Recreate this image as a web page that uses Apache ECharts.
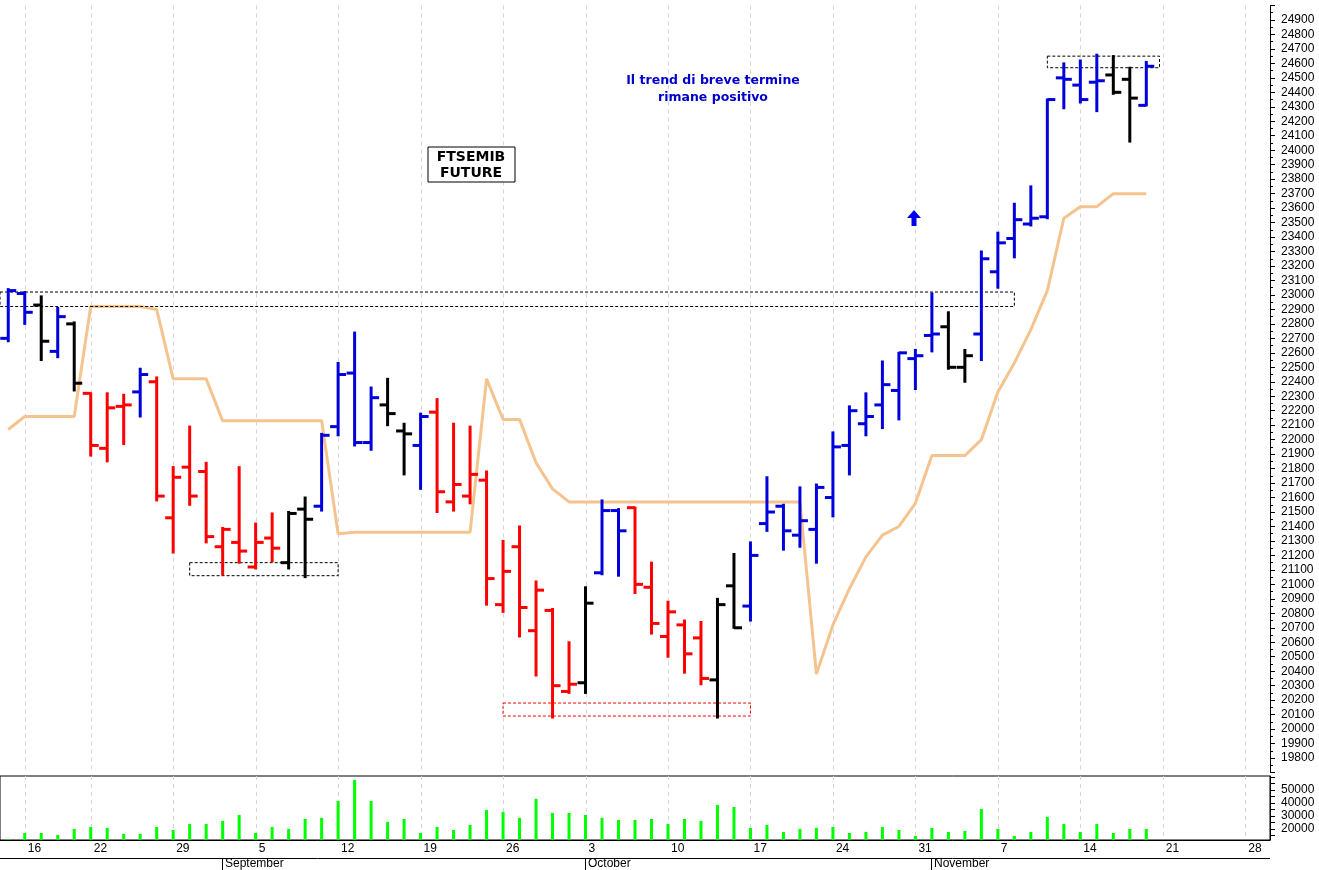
<!DOCTYPE html>
<html><head><meta charset="utf-8">
<script src="https://cdn.jsdelivr.net/npm/echarts@6/dist/echarts.min.js"></script>
<style>html,body{margin:0;padding:0;background:#fff}#c{width:1319px;height:870px}</style>
</head><body><div id="c"></div>
<script>
const dates = ['08-12','08-16','08-17','08-18','08-19','08-22','08-23','08-24','08-25','08-26','08-29','08-30','08-31','09-01','09-02',
'09-05','09-06','09-07','09-08','09-09','09-12','09-13','09-14','09-15','09-16','09-19','09-20','09-21','09-22','09-23',
'09-26','09-27','09-28','09-29','09-30','10-03','10-04','10-05','10-06','10-07','10-10','10-11','10-12','10-13','10-14',
'10-17','10-18','10-19','10-20','10-21','10-24','10-25','10-26','10-27','10-28','10-31','11-01','11-02','11-03','11-04',
'11-07','11-08','11-09','11-10','11-11','11-14','11-15','11-16','11-17','11-18','11-21','11-22','11-23','11-24','11-25','11-28','11-29'];
const opens = [22700,23010,22930,22610,22800,22320,21940,22230,22330,22400,
21460,21810,21780,21260,21290,21120,21320,21150,21520,21540,
22090,22460,21980,22240,22060,21960,22190,21570,21610,21720,
20860,21260,20680,20820,20260,20320,21080,21510,21530,20980,
20640,20720,20630,20340,20990,20850,21420,21540,21340,21380,
21600,21960,22110,22240,22340,22560,22720,22780,22500,22730,
23160,23390,23490,23540,24500,24450,24470,24520,24490,24310];
const highs = [23040,23020,22990,22910,22810,22320,22320,22310,22490,22430,
21810,22090,21840,21390,21810,21420,21490,21500,21600,22040,
22530,22740,22360,22420,22110,22180,22280,22110,22090,21780,
21300,21400,21020,20830,20600,20980,21580,21520,21530,21150,
20880,20750,20740,20900,21210,21290,21740,21550,21670,21690,
22050,22230,22320,22540,22600,22620,23010,22880,22620,23300,
23430,23630,23750,24350,24600,24620,24660,24650,24570,24610];
const lows = [22680,22800,22550,22570,22340,21890,21850,21970,22160,21580,
21220,21550,21290,21070,21150,21110,21160,21110,21050,21510,
22030,21960,21930,22100,21760,21660,21500,21510,21560,20860,
20810,20640,20370,20080,20250,20250,21070,21060,20940,20660,
20500,20390,20310,20080,20700,20750,21370,21240,21260,21150,
21470,21760,22030,22080,22140,22350,22610,22490,22400,22550,
23050,23260,23480,23530,24290,24330,24270,24390,24060,24310];
const closes = [23030,22880,22680,22850,22390,21960,22220,22240,22450,21610,
21740,21610,21330,21380,21230,21290,21250,21490,21450,22030,
22450,21980,22290,22180,22040,22160,21640,21690,21760,21040,
21090,20840,20960,20300,20310,20870,21510,21370,21000,20730,
20810,20520,20350,20860,20700,21200,21500,21370,21440,21670,
21950,22200,22160,22380,22600,22580,22730,22500,22580,23250,
23360,23520,23530,24350,24490,24350,24480,24400,24360,24580];
const barColors = ['B','B','K','B','K','R','R','R','B','R',
'R','R','R','R','R','R','R','K','K','B',
'B','B','B','K','K','B','R','R','R','R',
'R','R','R','R','R','K','B','B','R','R',
'R','R','R','K','K','B','B','B','B','B',
'B','B','B','B','B','B','B','K','K','B',
'B','B','B','B','B','B','B','K','K','B'];
const trendLine = [22070,22160,22160,22160,22160,22920,22920,22920,22920,22900,
22420,22420,22420,22130,22130,22130,22130,22130,22130,22130,
21350,21360,21360,21360,21360,21360,21360,21360,21360,22420,
22140,22140,21840,21660,21570,21570,21570,21570,21570,21570,
21570,21570,21570,21570,21570,21570,21570,21570,21570,20380,
20720,20970,21190,21340,21400,21560,21890,21890,21890,22000,
22330,22530,22760,23030,23530,23610,23610,23700,23700,23700];
const volumes = [12300,16900,16900,15400,20000,21500,20800,16200,16200,21500,
19200,23800,23800,26200,30800,16900,21500,20000,27700,28500,
41500,57700,41500,25400,27700,16900,21500,19200,23100,34600,
33100,28500,43100,32300,32300,30800,28500,26900,26900,27700,
23800,27700,26200,38500,36900,20800,23100,17700,20000,20800,
21500,16900,17700,21500,19200,14600,20800,17700,18500,35400,
20000,14600,17700,29200,23800,17700,23800,16900,20000,20000];
// zones: [startIndex, endIndex, priceLow, priceHigh, colour]
const zones = [[-0.5,61,22920,23020,'#000'],[11,20,21060,21150,'#000'],[30,45,20090,20180,'#f00'],[63,69.8,24570,24650,'#000']];
const priceTicks = [19800,24900];
const volLabels = [20000,30000,40000,50000];

const YEAR = 2022;
const dObj = dates.map(s => new Date(YEAR, +s.slice(0,2)-1, +s.slice(3)));
const weekStart = dObj.map((d,i) => i>0 && d.getDay() < dObj[i-1].getDay());
const weekIdx = weekStart.map((w,i)=>w?[i]:null).filter(Boolean);
const colMap = {B:'#0000dd', R:'#ff0000', K:'#000000'};
const ohlc = opens.map((o,i)=>[i,o,highs[i],lows[i],closes[i]]);

const chart = echarts.init(document.getElementById('c'));
const font = 'Liberation Sans, Arial, sans-serif';
const vGrid = (xi, yi) => ({type:'custom', xAxisIndex:xi, yAxisIndex:yi, data:weekIdx, z:0, silent:true,
  renderItem:(params, api)=>{
    const x = Math.round(api.coord([api.value(0), 0])[0]) + 0.5;
    const cs = params.coordSys;
    return {type:'line', shape:{x1:x, y1:cs.y, x2:x, y2:cs.y+cs.height}, style:{stroke:'#d4d4de', lineWidth:1, lineDash:[4,4]}};
  }});
chart.setOption({
  animation:false,
  grid:[{left:0, width:1270, top:5.5, height:767},
        {left:0, width:1270, top:776, height:64, show:true, borderColor:'#000', borderWidth:1, backgroundColor:'transparent'}],
  xAxis:[
    {type:'category', gridIndex:0, data:dates, axisLine:{show:false}, axisTick:{show:false}, axisLabel:{show:false}, splitLine:{show:false}},
    {type:'category', gridIndex:1, data:dates, axisLine:{lineStyle:{color:'#000'}}, 
     axisTick:{alignWithLabel:true, interval:(i)=>weekStart[i], length:18, lineStyle:{color:'#000'}},
     axisLabel:{interval:(i)=>weekStart[i], formatter:(v)=>String(+v.slice(3)), align:'left', padding:[0,0,0,3], margin:3, fontSize:12, color:'#000', fontFamily:font},
     splitLine:{show:false}}
  ],
  yAxis:[
    {type:'value', gridIndex:0, position:'right', min:19700, max:25000, interval:100,
     axisLine:{show:true, lineStyle:{color:'#000'}}, axisTick:{show:true, length:5, lineStyle:{color:'#000'}},
     minorTick:{show:true, splitNumber:2, length:3, lineStyle:{color:'#000'}},
     axisLabel:{formatter:(v)=> (v>=priceTicks[0] && v<=priceTicks[1]) ? String(v) : '', fontSize:12, color:'#000', margin:11, fontFamily:font},
     splitLine:{show:false}},
    {type:'value', gridIndex:1, position:'right', min:11500, max:60700,
     axisLine:{show:true, lineStyle:{color:'#000'}},
     axisTick:{show:true, length:5, customValues:[15000,20000,25000,30000,35000,40000,45000,50000,55000,60000], lineStyle:{color:'#000'}},
     axisLabel:{customValues:volLabels, formatter:(v)=>String(v), fontSize:12, color:'#000', margin:11, fontFamily:font},
     splitLine:{show:false}}
  ],
  series:[
    vGrid(0,0), vGrid(1,1),
    {type:'line', xAxisIndex:0, yAxisIndex:0, data:trendLine, symbol:'none', lineStyle:{color:'#f5c48e', width:3}, z:1},
    {type:'custom', xAxisIndex:0, yAxisIndex:0, data:ohlc, z:3,
     renderItem:(params, api)=>{
       const i = api.value(0);
       const hi = api.coord([i, api.value(2)]), lo = api.coord([i, api.value(3)]);
       const op = api.coord([i, api.value(1)]), cl = api.coord([i, api.value(4)]);
       const col = colMap[barColors[i]];
       const st = {stroke:col, lineWidth:3};
       return {type:'group', children:[
         {type:'line', shape:{x1:hi[0], y1:hi[1]-1, x2:lo[0], y2:lo[1]+1}, style:st},
         {type:'line', shape:{x1:op[0]-8, y1:op[1], x2:op[0], y2:op[1]}, style:st},
         {type:'line', shape:{x1:cl[0], y1:cl[1], x2:cl[0]+8, y2:cl[1]}, style:st}
       ]};
     }},
    {type:'custom', xAxisIndex:0, yAxisIndex:0, data:zones, z:2,
     renderItem:(params, api)=>{
       const z = zones[params.dataIndex];
       const bw = api.size([1,0])[0];
       const p0 = api.coord([Math.floor(z[0]), z[3]]), p1 = api.coord([Math.floor(z[1]), z[2]]);
       const x0 = p0[0] + (z[0]-Math.floor(z[0]))*bw, x1 = p1[0] + (z[1]-Math.floor(z[1]))*bw;
       return {type:'rect', shape:{x:x0, y:p0[1], width:x1-x0, height:p1[1]-p0[1]},
               style:{fill:'none', stroke:z[4], lineWidth:1, lineDash:[3,2]}};
     }},
    {type:'bar', xAxisIndex:1, yAxisIndex:1, data:volumes, barWidth:3, itemStyle:{color:'#00ff00'}}
  ]
});

const months = [['September','09-01'],['October','10-03'],['November','11-01']];
const g = [{type:'line', shape:{x1:0, y1:858.5, x2:1270, y2:858.5}, style:{stroke:'#000', lineWidth:1}}];
months.forEach(([name, d])=>{
  const x = Math.round(chart.convertToPixel({xAxisIndex:1}, d)) - 1;
  g.push({type:'line', shape:{x1:x+0.5, y1:858, x2:x+0.5, y2:870}, style:{stroke:'#000', lineWidth:1}});
  g.push({type:'text', x:x+3, y:858, style:{text:name, fill:'#000', font:'12px '+font}});
});
g.push({type:'group', children:[
  {type:'rect', shape:{x:428, y:147, width:87, height:35}, style:{fill:'#fff', stroke:'#000', lineWidth:1}},
  {type:'text', x:471, y:149, style:{text:'FTSEMIB\nFUTURE', align:'center', fill:'#000', font:'bold 14px DejaVu Sans, sans-serif', lineHeight:16}}
]});
g.push({type:'text', x:713, y:72, style:{text:'Il trend di breve termine\nrimane positivo', align:'center', fill:'#0000cc', font:'bold 12.5px DejaVu Sans, sans-serif', lineHeight:17}});
g.push({type:'polygon', shape:{points:[[914,210],[921,218],[916.5,218],[916.5,226],[911.5,226],[911.5,218],[907,218]]}, style:{fill:'#0000ee'}});
chart.setOption({graphic:g});
</script></body></html>
